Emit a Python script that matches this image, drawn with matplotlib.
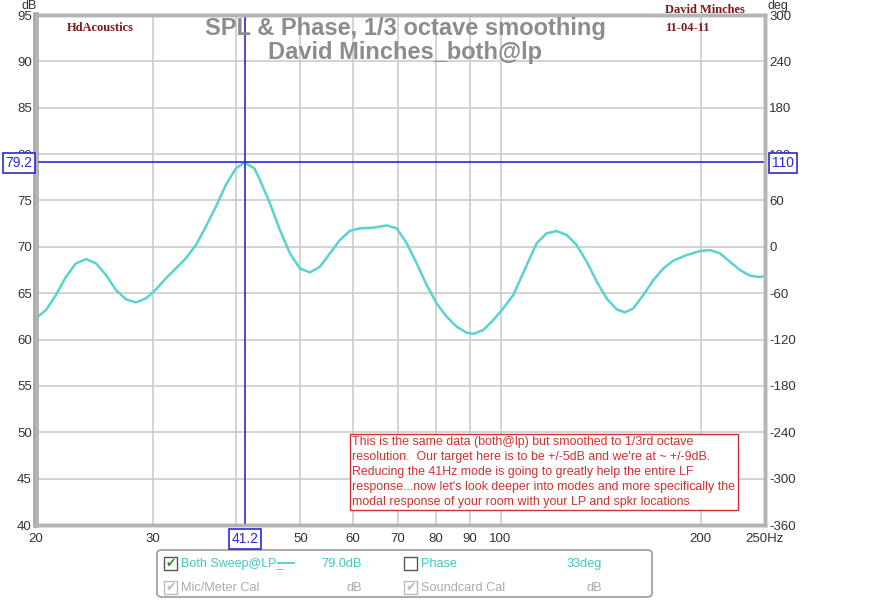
import matplotlib.pyplot as plt
from matplotlib.patches import Rectangle, FancyBboxPatch
from matplotlib.lines import Line2D

# SPL curve, 1/3 octave smoothed
freq = [20.0, 20.7, 21.43, 22.19, 22.97, 23.79, 24.62, 25.5, 26.39, 27.32,
        28.28, 29.28, 30.31, 31.37, 32.47, 33.61, 34.8, 36.02, 37.29, 38.6,
        39.96, 41.2, 42.62, 43.45, 44.98, 46.56, 48.21, 49.9, 51.66, 53.48,
        55.37, 57.32, 59.34, 61.44, 64.36, 67.41, 69.79, 72.27, 74.79, 77.43,
        80.15, 82.99, 85.92, 88.95, 91.0, 94.2, 97.5, 100.4, 104.5, 109.5,
        113.3, 117.3, 121.5, 125.8, 130.2, 134.8, 139.6, 144.4, 149.5, 153.9,
        158.4, 164.0, 169.8, 175.8, 181.9, 190.5, 199.6, 206.6, 213.9, 221.4,
        229.3, 237.4, 245.7, 250.0]
spl = [62.28, 63.18, 64.8, 66.77, 68.21, 68.68, 68.21, 66.95, 65.33, 64.33,
       64.0, 64.44, 65.41, 66.6, 67.67, 68.75, 70.19, 72.16, 74.32, 76.66,
       78.46, 79.1, 78.46, 77.2, 74.69, 71.81, 69.29, 67.67, 67.24, 67.85,
       69.29, 70.73, 71.73, 71.99, 72.06, 72.31, 71.99, 70.37, 68.21, 65.87,
       63.9, 62.45, 61.38, 60.73, 60.62, 61.02, 62.1, 63.15, 64.8, 68.03,
       70.37, 71.45, 71.7, 71.27, 70.19, 68.39, 66.23, 64.44, 63.25, 62.93,
       63.36, 64.8, 66.41, 67.67, 68.5, 69.11, 69.54, 69.65, 69.29, 68.39,
       67.49, 66.88, 66.74, 66.85]

x_ticks = [20, 30, 50, 60, 70, 80, 90, 100, 200, 250]
x_labels = ["20", "30", "50", "60", "70", "80", "90", "100", "200", "250Hz"]
x_grid = [30, 40, 50, 60, 70, 80, 90, 100, 200]
db_ticks = list(range(40, 96, 5))
deg_ticks = list(range(-360, 301, 60))

cursor_f = 41.2
cursor_db = 79.2
cursor_deg = 110

note = ("This is the same data (both@lp) but smoothed to 1/3rd octave\n"
        "resolution.  Our target here is to be +/-5dB and we're at ~ +/-9dB.\n"
        "Reducing the 41Hz mode is going to greatly help the entire LF\n"
        "response...now let's look deeper into modes and more specifically the\n"
        "modal response of your room with your LP and spkr locations")

plt.rcParams['font.family'] = ['Liberation Sans', 'DejaVu Sans']
plt.rcParams['axes.unicode_minus'] = False

W, H = 880, 600
fig = plt.figure(figsize=(8.8, 6), dpi=100)


def px(x, y):
    return x / W, 1 - y / H


ax = fig.add_axes([36 / W, 75 / H, 729 / W, 510 / H])
ax.set_xscale('log')
ax.set_xlim(20, 250)
ax.set_ylim(40, 95)

for f in x_grid:
    ax.axvline(f, color='#cccccc', lw=1.2, zorder=1)
for d in db_ticks:
    ax.axhline(d, color='#cccccc', lw=1.2, zorder=1)

ax.plot(freq, spl, color='#5ad2d2', lw=1.8, zorder=3)

# cursor lines
ax.axvline(cursor_f, color='#2a2ad0', lw=1.2, zorder=4)
ax.axhline(cursor_db, color='#2a2ad0', lw=1.2, zorder=4)

ax.set_xticks(x_ticks)
ax.set_xticklabels(x_labels)
ax.xaxis.set_minor_locator(plt.NullLocator())
ax.set_yticks(db_ticks)
ax.tick_params(length=0, labelsize=9.5, colors='#333333', pad=3)
ax.tick_params(axis='x', pad=6)

ax2 = ax.twinx()
ax2.set_ylim(-360, 300)
ax2.set_yticks(deg_ticks)
ax2.tick_params(length=0, labelsize=9.5, colors='#333333', pad=3)

for a in (ax, ax2):
    for s in a.spines.values():
        s.set_color('#b4b4b4')
        s.set_linewidth(2.5)
ax.spines['left'].set_color('#a0a0a0')
ax.spines['left'].set_linewidth(4)

fig.text(*px(21, 6), "dB", fontsize=9, color='#333333', ha='left', va='center')
fig.text(*px(767, 6), "deg", fontsize=9, color='#333333', ha='left', va='center')

# titles
fig.text(*px(405, 28), "SPL & Phase, 1/3 octave smoothing", fontsize=17,
         fontweight='bold', color='#8c8c8c', ha='center', va='center')
fig.text(*px(405, 53), "David Minches_both@lp", fontsize=17,
         fontweight='bold', color='#8c8c8c', ha='center', va='center')

fig.text(*px(67, 28), "HdAcoustics", fontsize=9, fontweight='bold',
         family='Liberation Serif', color='#7a1a1a', ha='left', va='center')
fig.text(*px(665, 10), "David Minches", fontsize=9, fontweight='bold',
         family='Liberation Serif', color='#7a1a1a', ha='left', va='center')
fig.text(*px(665, 28), "11-04-11", fontsize=9, fontweight='bold',
         family='Liberation Serif', color='#7a1a1a', ha='left', va='center')

# cursor value boxes
box = dict(boxstyle='square,pad=0.2', fc='white', ec='#2a2ad0', lw=1.2)
fig.text(*px(19, 163), "79.2", fontsize=10, color='#2a2ad0', ha='center',
         va='center', bbox=box, zorder=10)
fig.text(*px(783, 163), "110", fontsize=10, color='#2a2ad0', ha='center',
         va='center', bbox=box, zorder=10)
fig.text(*px(245, 539), "41.2", fontsize=10, color='#2a2ad0', ha='center',
         va='center', bbox=box, zorder=10)

# annotation
ax.text(0.434, 0.174, note, transform=ax.transAxes, fontsize=8.9,
        color='#d03030', ha='left', va='top', linespacing=1.32, zorder=6,
        bbox=dict(boxstyle='square,pad=0.2', fc='white', ec='#d03030', lw=1))

# legend panel
fig.patches.append(FancyBboxPatch(px(157, 597), 495 / W, 47 / H,
                                  boxstyle='round,pad=0,rounding_size=0.006',
                                  transform=fig.transFigure, fc='white',
                                  ec='#999999', lw=1.2))


def checkbox(x, y, checked, color):
    fig.patches.append(Rectangle(px(x, y + 13), 13 / W, 13 / H,
                                 transform=fig.transFigure, fc='white',
                                 ec=color, lw=1))
    if checked:
        fig.text(*px(x + 6.5, y + 6.5), "\u2714", fontsize=9,
                 family='DejaVu Sans', color='#2a9a2a' if color == '#555555' else '#bbbbbb',
                 ha='center', va='center')


checkbox(164, 557, True, '#555555')
checkbox(404, 557, False, '#555555')
checkbox(164, 581, True, '#bbbbbb')
checkbox(404, 581, True, '#bbbbbb')

fs = 9.2
fig.text(*px(181, 564), "Both Sweep@LP_", fontsize=9, color='#40c8c8', va='center')
fig.lines.append(Line2D([278 / W, 294 / W], [1 - 563 / H, 1 - 563 / H],
                        transform=fig.transFigure, color='#40c8c8', lw=1.2))
fig.text(*px(362, 564), "79.0dB", fontsize=fs, color='#40c8c8', va='center', ha='right')
fig.text(*px(421, 564), "Phase", fontsize=fs, color='#40c8c8', va='center')
fig.text(*px(602, 564), "33deg", fontsize=fs, color='#40c8c8', va='center', ha='right')
fig.text(*px(181, 588), "Mic/Meter Cal", fontsize=fs, color='#aaaaaa', va='center')
fig.text(*px(362, 588), "dB", fontsize=fs, color='#aaaaaa', va='center', ha='right')
fig.text(*px(421, 588), "Soundcard Cal", fontsize=fs, color='#aaaaaa', va='center')
fig.text(*px(602, 588), "dB", fontsize=fs, color='#aaaaaa', va='center', ha='right')

fig.savefig("out.png", dpi=100)
